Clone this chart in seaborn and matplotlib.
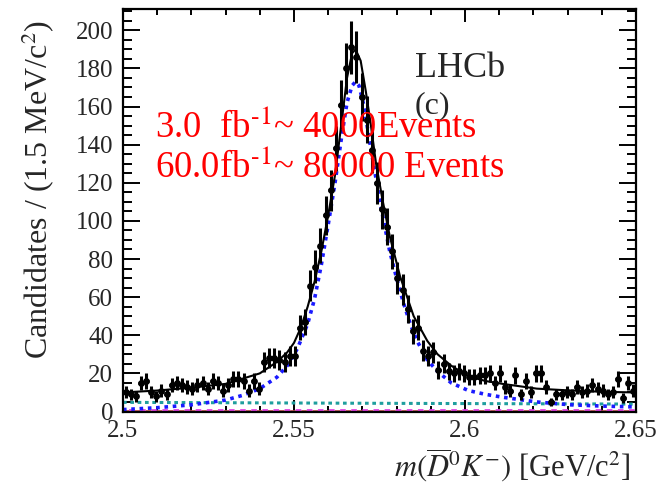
import numpy as np
import pandas as pd
import matplotlib
matplotlib.use("Agg")
import matplotlib.pyplot as plt
from matplotlib.ticker import MultipleLocator
import seaborn as sns

# binned data, 100 bins of 1.5 MeV from 2.50 to 2.65 GeV
bin_lo = 2.500
bin_width = 0.0015
counts = [10, 9, 8, 15, 16, 10, 8, 11, 9, 14,
          15, 14, 13, 12, 14, 15, 12, 16, 15, 11,
          14, 17, 17, 16, 11, 16, 12, 26, 28, 28,
          27, 26, 29, 29, 44, 47, 66, 76, 87, 103,
          116, 138, 161, 180, 191, 186, 165, 153, 137, 120,
          106, 97, 84, 70, 64, 54, 42, 44, 32, 29,
          31, 22, 25, 21, 20, 21, 20, 18, 18, 19,
          19, 20, 15, 20, 13, 11, 19, 9, 16, 10,
          20, 20, 13, 5, 9, 9, 10, 9, 13, 10,
          11, 14, 12, 11, 9, 10, 17, 7, 15, 11]

# total fit
fit_x = [2.500, 2.510, 2.520, 2.530, 2.540, 2.545, 2.548, 2.550, 2.552, 2.554,
         2.556, 2.558, 2.560, 2.562, 2.564, 2.5655, 2.567, 2.568, 2.5695, 2.571,
         2.5725, 2.574, 2.576, 2.578, 2.581, 2.585, 2.589, 2.592, 2.596, 2.601,
         2.606, 2.611, 2.621, 2.631, 2.641, 2.650]
fit_y = [10, 11, 12.5, 14.5, 20, 26, 31, 36, 44, 55,
         68, 84, 103, 124, 153, 175, 188, 190, 184, 168,
         150, 130, 110, 92, 71, 50, 37, 30, 24, 18.5,
         16, 14.5, 12, 11, 10.3, 10]

# signal component (blue dotted)
sig_x = [2.500, 2.510, 2.520, 2.530, 2.535, 2.540, 2.545, 2.548, 2.551, 2.554,
         2.556, 2.558, 2.560, 2.562, 2.564, 2.5655, 2.567, 2.568, 2.569, 2.5705,
         2.572, 2.574, 2.576, 2.578, 2.580, 2.582, 2.584, 2.586, 2.589, 2.592,
         2.596, 2.601, 2.606, 2.611, 2.621, 2.631, 2.641, 2.650]
sig_y = [1.0, 2.0, 3.5, 6, 8.5, 12, 18, 24, 33, 46,
         59, 77, 98, 120, 145, 162, 171, 173, 171, 160,
         143, 122, 102, 84, 70, 57, 46, 37, 27, 21,
         15, 11, 9, 7.5, 5, 3.5, 2.8, 2.4]

# background components near the bottom
bkg1_x = [2.500, 2.575, 2.650]
bkg1_y = [4.8, 4.3, 3.9]
bkg2_x = [2.500, 2.650]
bkg2_y = [0.9, 0.9]
bkg3_x = [2.500, 2.650]
bkg3_y = [0.4, 0.4]

sns.set_style("ticks")
plt.rcParams['font.family'] = ['Liberation Serif', 'DejaVu Serif']
plt.rcParams['mathtext.fontset'] = 'stix'

centers = bin_lo + bin_width * (np.arange(len(counts)) + 0.5)
df = pd.DataFrame({'mass': centers, 'n': counts})
df['err'] = np.sqrt(df['n'])

fig = plt.figure(figsize=(6.71, 4.91), dpi=100)
ax = fig.add_axes([0.1833, 0.1619, 0.7645, 0.8191])

sns.lineplot(x=bkg3_x, y=bkg3_y, ax=ax, color='#c05050', lw=2.0,
             linestyle=(0, (2, 2)))
sns.lineplot(x=bkg2_x, y=bkg2_y, ax=ax, color='#e040e0', lw=2.0,
             linestyle=(2, (2, 2)))
sns.lineplot(x=bkg1_x, y=bkg1_y, ax=ax, color='#1f9e9e', lw=2.2,
             linestyle=(0, (1.2, 1.2)))
sns.lineplot(x=sig_x, y=sig_y, ax=ax, color='#1a1aff', lw=2.6,
             linestyle=(0, (1, 1.3)))
sns.lineplot(x=fit_x, y=fit_y, ax=ax, color='black', lw=1.5)

ax.errorbar(df['mass'], df['n'], yerr=df['err'], xerr=bin_width / 2,
            fmt='none', ecolor='black', elinewidth=2.2, capsize=0, zorder=5)
sns.scatterplot(data=df, x='mass', y='n', ax=ax, color='black', s=24,
                edgecolor='black', linewidth=0, zorder=6)

ax.set_xlim(2.5, 2.65)
ax.set_ylim(0, 211)
ax.set_xticks([2.5, 2.55, 2.6, 2.65])
ax.set_xticklabels(['2.5', '2.55', '2.6', '2.65'])
ax.xaxis.set_minor_locator(MultipleLocator(0.01))
ax.yaxis.set_major_locator(MultipleLocator(20))
ax.yaxis.set_minor_locator(MultipleLocator(5))
ax.tick_params(axis='both', which='both', direction='in', top=True, right=True,
               labelsize=18, width=1.4, color='black')
ax.tick_params(axis='x', which='major', length=9, pad=6)
ax.tick_params(axis='x', which='minor', length=4.5)
ax.tick_params(axis='y', which='major', length=12, pad=7)
ax.tick_params(axis='y', which='minor', length=6.5)
for sp in ax.spines.values():
    sp.set_linewidth(1.6)
    sp.set_color('black')
ax.set_xlabel('')
ax.set_ylabel('')

fig.text(0.058, 0.959, 'Candidates / (1.5 MeV/c$^{2}$)', rotation=90,
         ha='center', va='top', fontsize=23)
fig.text(0.940, 0.053, r'$m(\overline{D}^{0}K^{-})$ [GeV/c$^{2}$]',
         ha='right', va='center', fontsize=22)

ax.text(0.569, 0.832, 'LHCb', transform=ax.transAxes, fontsize=26,
        ha='left', va='baseline')
ax.text(0.569, 0.742, '(c)', transform=ax.transAxes, fontsize=23,
        ha='left', va='baseline')
ax.text(0.0624, 0.6825, r'3.0  fb$^{\text{-}1}$~ 4000Events', transform=ax.transAxes,
        fontsize=26.5, color='red', ha='left', va='baseline', zorder=10)
ax.text(0.0624, 0.583, r'60.0fb$^{\text{-}1}$~ 80000 Events', transform=ax.transAxes,
        fontsize=26.5, color='red', ha='left', va='baseline', zorder=10)

fig.savefig('out.png', dpi=100)
